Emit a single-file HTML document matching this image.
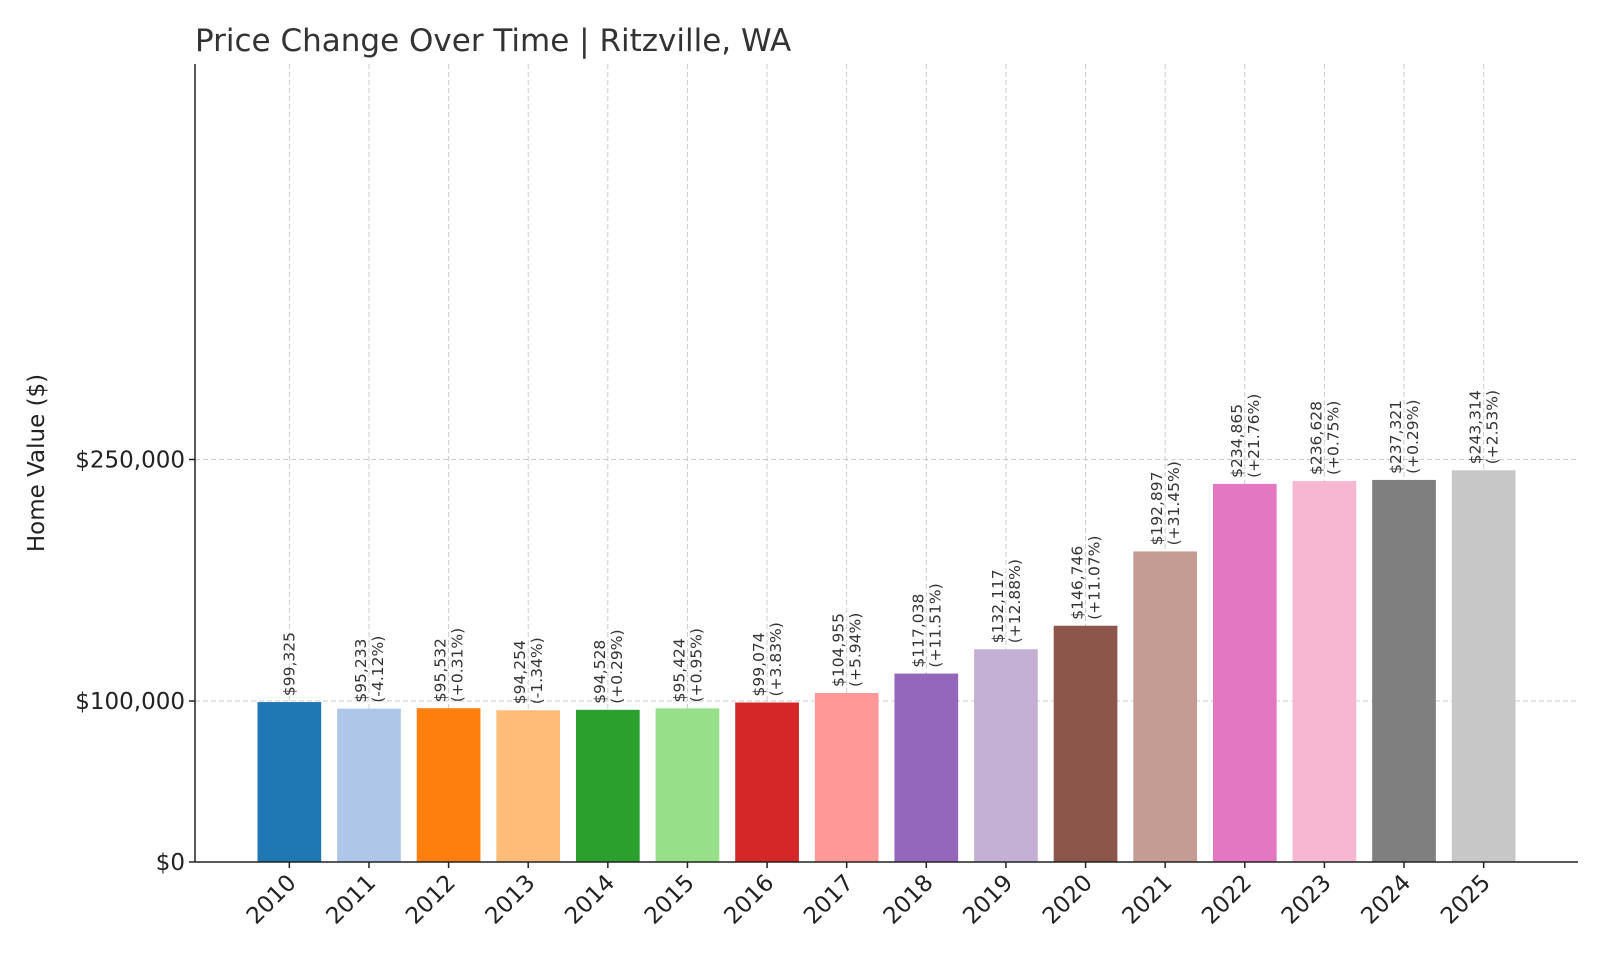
<!DOCTYPE html>
<html><head><meta charset="utf-8"><style>
body{margin:0;background:#fff;}
svg{display:block;font-family:"DejaVu Sans","Liberation Sans",sans-serif;}
</style></head><body>
<svg id="chart" width="1600" height="960" viewBox="0 0 1600 960">
<text x="195" y="51" font-size="31" fill="#333">Price Change Over Time | Ritzville, WA</text>
<text transform="translate(44,463) rotate(-90)" text-anchor="middle" font-size="23" fill="#222">Home Value ($)</text>
<g id="grid"></g><g id="bars"></g><g id="labels"></g><g id="axes"></g>
</svg>
<script>
const years=["2010","2011","2012","2013","2014","2015","2016","2017","2018","2019","2020","2021","2022","2023","2024","2025"];
const values=[99325,95233,95532,94254,94528,95424,99074,104955,117038,132117,146746,192897,234865,236628,237321,243314];
const changes=["","(-4.12%)","(+0.31%)","(-1.34%)","(+0.29%)","(+0.95%)","(+3.83%)","(+5.94%)","(+11.51%)","(+12.88%)","(+11.07%)","(+31.45%)","(+21.76%)","(+0.75%)","(+0.29%)","(+2.53%)"];
const colors=["#1f77b4","#aec7e8","#ff7f0e","#ffbb78","#2ca02c","#98df8a","#d62728","#ff9896","#9467bd","#c5b0d5","#8c564b","#c49c94","#e377c2","#f7b6d2","#7f7f7f","#c7c7c7"];
const yTicks=[0,100000,250000];
const yTickLabels=["$0","$100,000","$250,000"];
const NS="http://www.w3.org/2000/svg";
const L=195,R=1578,T=64,B=862;
const step=(R-L)/(years.length-1+2*1.185);
const x=i=>L+step*1.185+i*step;
const y=v=>B-v*(B-701)/100000;
const bw=step*0.8;
function mk(tag,attrs,parent){const e=document.createElementNS(NS,tag);for(const k in attrs)e.setAttribute(k,attrs[k]);parent.appendChild(e);return e;}
const grid=document.getElementById('grid'),bars=document.getElementById('bars'),labels=document.getElementById('labels'),axes=document.getElementById('axes');
years.forEach((yr,i)=>{
 const g=mk('line',{x1:x(i),x2:x(i),y1:T,y2:B,stroke:'#ccc','stroke-dasharray':'5,3','stroke-width':1},grid);
 
 
});
yTicks.forEach((t,i)=>{
 if(t>0){const g=mk('line',{x1:L,x2:R,y1:y(t),y2:y(t),stroke:'#ccc','stroke-dasharray':'5,3','stroke-width':1},grid);
 
 }
 const tk=mk('line',{x1:L-6,x2:L,y1:y(t),y2:y(t),stroke:'#222','stroke-width':1.5},axes);
 
 
 const tl=mk('text',{x:L-10,y:y(t)+8,'text-anchor':'end','font-size':23,fill:'#222'},axes);
 tl.textContent=yTickLabels[i];
 
 
});
years.forEach((yr,i)=>{
 const r=mk('rect',{x:x(i)-bw/2,y:y(values[i]),width:bw,height:B-y(values[i]),fill:colors[i]},bars);
 
 
 const t=mk('text',{transform:`translate(${x(i)},${y(values[i])-6}) rotate(-90)`,'font-size':15.5,fill:'#333'},labels);
 
 
 const s1=mk('tspan',{x:0,y:changes[i]?-3:5},t);s1.textContent='$'+values[i].toLocaleString('en-US');
 if(changes[i]){const s2=mk('tspan',{x:0,y:14},t);s2.textContent=changes[i];}
 const tk=mk('line',{x1:x(i),x2:x(i),y1:B,y2:B+6,stroke:'#222','stroke-width':1.5},axes);
 
 
 const xl=mk('text',{transform:`translate(${x(i)+8},${B+22}) rotate(-45)`,'text-anchor':'end','font-size':23,fill:'#222'},axes);
 xl.textContent=yr;
 
 
});
const ax=mk('line',{x1:L,x2:L,y1:T,y2:B,stroke:'#222','stroke-width':1.5},axes);


const bx=mk('line',{x1:L,x2:R,y1:B,y2:B,stroke:'#222','stroke-width':1.5},axes);


</script>
</body></html>
